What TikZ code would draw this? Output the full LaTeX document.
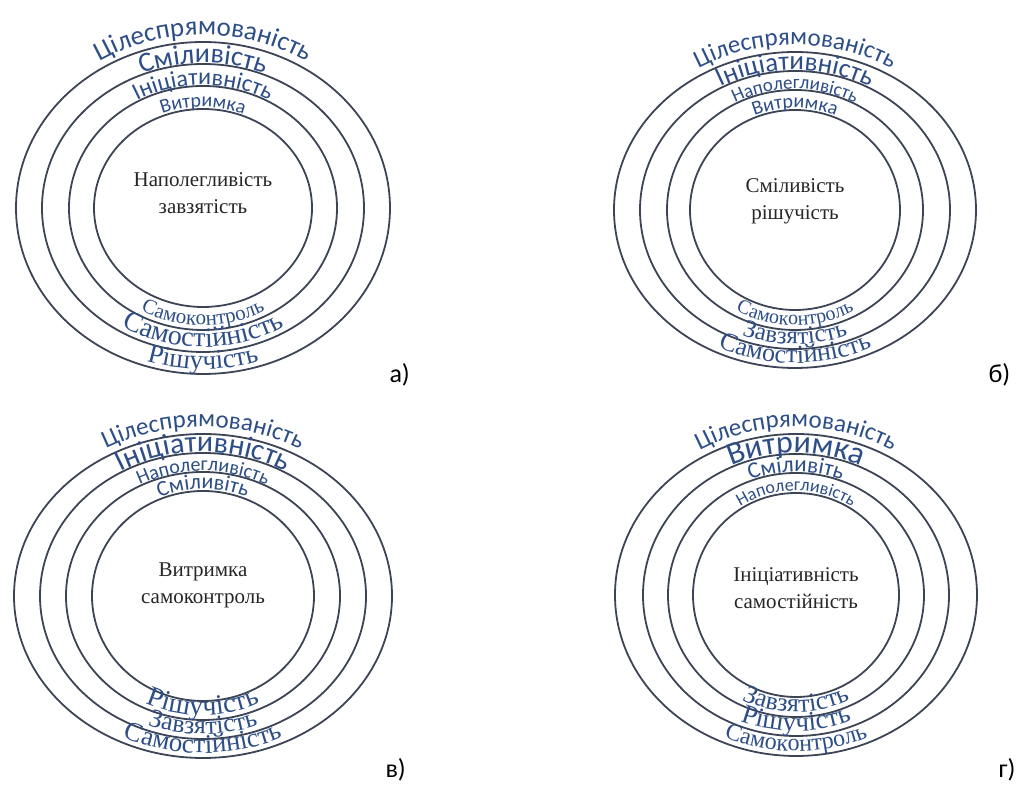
\documentclass[tikz,border=0pt]{standalone}
\usepackage{fontspec}
\setmainfont{Liberation Serif}
\newfontfamily\arcsans{Carlito}
\usepackage{xcolor}
\definecolor{ringgray}{RGB}{60, 68, 86}
\definecolor{arcblue}{RGB}{45, 78, 135}
\usetikzlibrary{decorations.text}
\newcommand\arcface[2]{\font\arcfacefont="#1" at #2pt\arcfacefont}

\begin{document}
\begin{tikzpicture}[
        x=1pt, y=1pt,
        ring/.style={draw=ringgray, line width=1.8pt},
        core/.style={align=center, text=black!85, font=\fontsize{21}{27}\selectfont},
        tag/.style={anchor=base west, font=\arcsans\fontsize{26}{26}\selectfont},
        arctext/.style={decorate, decoration={text along path, text align=center, text color=arcblue}}
    ]
        \useasboundingbox (0,0) rectangle (1021,787);

        % centres of the four ring sets
        \coordinate (ca) at (203,579);
        \coordinate (cb) at (795,577);
        \coordinate (cc) at (203,191);
        \coordinate (cd) at (796,192);

        % rings
        \foreach \rx/\ry in {109/99, 134/122, 161/144, 187/166}
            \draw[ring] (ca) ellipse[x radius=\rx, y radius=\ry];
        \foreach \rx/\ry in {105/100, 128/120, 155/139, 181/158}
            \draw[ring] (cb) ellipse[x radius=\rx, y radius=\ry];
        \foreach \rx/\ry in {111/105, 137/124, 163/143, 189/162}
            \draw[ring] (cc) ellipse[x radius=\rx, y radius=\ry];
        \foreach \rx/\ry in {103/102, 128/122, 153/141, 181/161}
            \draw[ring] (cd) ellipse[x radius=\rx, y radius=\ry];

        % a)
        \path[arctext, shift={(ca)}, decoration={text={|\arcface{Carlito}{27}|Цілеспрямованість}}] (170:194 and 173) arc[start angle=170, end angle=10, x radius=194, y radius=173];
        \path[arctext, shift={(ca)}, decoration={text={|\arcface{Carlito}{28}|Сміливість}}] (170:162 and 145) arc[start angle=170, end angle=10, x radius=162, y radius=145];
        \path[arctext, shift={(ca)}, decoration={text={|\arcface{Carlito}{24}|Ініціативність}}] (170:135 and 123) arc[start angle=170, end angle=10, x radius=135, y radius=123];
        \path[arctext, shift={(ca)}, decoration={text={|\arcface{Carlito}{20}|Витримка}}] (170:111 and 101) arc[start angle=170, end angle=10, x radius=111, y radius=101];
        \path[arctext, shift={(ca)}, decoration={text={|\arcface{Liberation Serif}{21}|Самоконтроль}}] (190:129 and 117) arc[start angle=190, end angle=350, x radius=129, y radius=117];
        \path[arctext, shift={(ca)}, decoration={text={|\arcface{Liberation Serif}{28}|Самостійність}}] (190:156 and 139) arc[start angle=190, end angle=350, x radius=156, y radius=139];
        \path[arctext, shift={(ca)}, decoration={text={|\arcface{Liberation Serif}{27}|Рішучість}}] (190:182 and 161) arc[start angle=190, end angle=350, x radius=182, y radius=161];
        \node[core] (coreA) at (203,594) {Наполегливість\\завзятість};
        \node[tag] (tagA) at (386,404) {а)};

        % б)
        \path[arctext, shift={(cb)}, decoration={text={|\arcface{Carlito}{25}|Цілеспрямованість}}] (170:188 and 165) arc[start angle=170, end angle=10, x radius=188, y radius=165];
        \path[arctext, shift={(cb)}, decoration={text={|\arcface{Carlito}{27}|Ініціативність}}] (170:156 and 140) arc[start angle=170, end angle=10, x radius=156, y radius=140];
        \path[arctext, shift={(cb)}, decoration={text={|\arcface{Carlito}{19}|Наполегливість}}] (170:129 and 121) arc[start angle=170, end angle=10, x radius=129, y radius=121];
        \path[arctext, shift={(cb)}, decoration={text={|\arcface{Carlito}{20}|Витримка}}] (170:107 and 102) arc[start angle=170, end angle=10, x radius=107, y radius=102];
        \path[arctext, shift={(cb)}, decoration={text={|\arcface{Liberation Serif}{20}|Самоконтроль}}] (190:123 and 115) arc[start angle=190, end angle=350, x radius=123, y radius=115];
        \path[arctext, shift={(cb)}, decoration={text={|\arcface{Liberation Serif}{25}|Завзятість}}] (190:150 and 134) arc[start angle=190, end angle=350, x radius=150, y radius=134];
        \path[arctext, shift={(cb)}, decoration={text={|\arcface{Liberation Serif}{26}|Самостійність}}] (190:176 and 153) arc[start angle=190, end angle=350, x radius=176, y radius=153];
        \node[core] (coreB) at (795,586) {Сміливість\\рішучість};
        \node[tag] (tagB) at (985,404) {б)};

        % в)
        \path[arctext, shift={(cc)}, decoration={text={|\arcface{Carlito}{25}|Цілеспрямованість}}] (170:196 and 169) arc[start angle=170, end angle=10, x radius=196, y radius=169];
        \path[arctext, shift={(cc)}, decoration={text={|\arcface{Carlito}{30}|Ініціативність}}] (170:164 and 144) arc[start angle=170, end angle=10, x radius=164, y radius=144];
        \path[arctext, shift={(cc)}, decoration={text={|\arcface{Carlito}{20}|Наполегливість}}] (170:138 and 125) arc[start angle=170, end angle=10, x radius=138, y radius=125];
        \path[arctext, shift={(cc)}, decoration={text={|\arcface{Carlito}{22}|Сміливіть}}] (170:113 and 107) arc[start angle=170, end angle=10, x radius=113, y radius=107];
        \path[arctext, shift={(cc)}, decoration={text={|\arcface{Liberation Serif}{28}|Рішучість}}] (190:132 and 119) arc[start angle=190, end angle=350, x radius=132, y radius=119];
        \path[arctext, shift={(cc)}, decoration={text={|\arcface{Liberation Serif}{26}|Завзятість}}] (190:158 and 138) arc[start angle=190, end angle=350, x radius=158, y radius=138];
        \path[arctext, shift={(cc)}, decoration={text={|\arcface{Liberation Serif}{27}|Самостійність}}] (190:184 and 157) arc[start angle=190, end angle=350, x radius=184, y radius=157];
        \node[core] (coreC) at (203,202) {Витримка\\самоконтроль};
        \node[tag] (tagC) at (382,9) {в)};

        % г)
        \path[arctext, shift={(cd)}, decoration={text={|\arcface{Carlito}{25}|Цілеспрямованість}}] (170:188 and 168) arc[start angle=170, end angle=10, x radius=188, y radius=168];
        \path[arctext, shift={(cd)}, decoration={text={|\arcface{Carlito}{32}|Витримка}}] (170:154 and 142) arc[start angle=170, end angle=10, x radius=154, y radius=142];
        \path[arctext, shift={(cd)}, decoration={text={|\arcface{Carlito}{23}|Сміливіть}}] (170:129 and 123) arc[start angle=170, end angle=10, x radius=129, y radius=123];
        \path[arctext, shift={(cd)}, decoration={text={|\arcface{Carlito}{18}|Наполегливість}}] (170:105 and 104) arc[start angle=170, end angle=10, x radius=105, y radius=104];
        \path[arctext, shift={(cd)}, decoration={text={|\arcface{Liberation Serif}{26}|Завзятість}}] (190:123 and 117) arc[start angle=190, end angle=350, x radius=123, y radius=117];
        \path[arctext, shift={(cd)}, decoration={text={|\arcface{Liberation Serif}{27}|Рішучість}}] (190:148 and 136) arc[start angle=190, end angle=350, x radius=148, y radius=136];
        \path[arctext, shift={(cd)}, decoration={text={|\arcface{Liberation Serif}{24}|Самоконтроль}}] (190:176 and 156) arc[start angle=190, end angle=350, x radius=176, y radius=156];
        \node[core] (coreD) at (796,199) {Ініціативність\\самостійність};
        \node[tag] (tagD) at (995,9) {г)};
    \end{tikzpicture}
\end{document}
